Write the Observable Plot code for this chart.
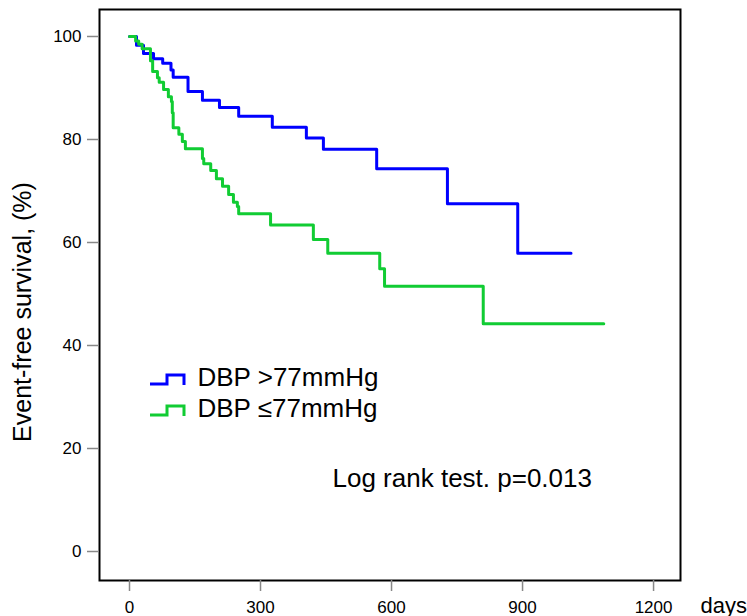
<!DOCTYPE html>
<html>
<head>
<meta charset="utf-8">
<script src="https://cdn.jsdelivr.net/npm/d3@7"></script>
<script src="https://cdn.jsdelivr.net/npm/@observablehq/plot@0.6"></script>
<style>
  html, body { margin: 0; padding: 0; background: #fff; }
  #chart { position: relative; width: 747px; height: 616px; }
</style>
</head>
<body>
<div id="chart"></div>
<script>
// ---- data ----
const seriesNames = ["DBP >77mmHg", "DBP ≤77mmHg"];
const seriesColors = ["#0000ff", "#11cc33"];

const blueDays = [0, 16, 32, 55, 76, 95, 100, 134, 167, 206, 250, 327, 405, 444, 566, 728, 889, 1011];
const blueSurv = [100, 98.3, 96.7, 95.7, 94.8, 93.5, 92.1, 89.3, 87.6, 86.2, 84.5, 82.4, 80.3, 78.1, 74.3, 67.5, 57.9, 57.9];

const greenDays = [0, 14, 21, 29, 48, 53, 64, 68, 78, 89, 96, 98, 100, 113, 121, 128, 167, 170, 186, 199, 213, 227, 238, 247, 250, 323, 421, 454, 573, 584, 810, 1086];
const greenSurv = [100, 99.1, 98.5, 97.6, 95.3, 93.2, 92.0, 91.1, 89.7, 88.3, 87.4, 85.2, 82.3, 81.0, 79.6, 78.2, 76.3, 75.3, 74.0, 72.4, 70.9, 69.3, 67.8, 67.0, 65.6, 63.4, 60.6, 57.9, 54.9, 51.5, 44.2, 44.2];

const xTicks = [0, 300, 600, 900, 1200];
const yTicks = [0, 20, 40, 60, 80, 100];
const yTitle = "Event-free survival, (%)";
const xTitle = "days";
const note = "Log rank test. p=0.013";

// ---- build table ----
const rows = [
  ...blueDays.map((d, i) => ({day: d, surv: blueSurv[i], group: seriesNames[0]})),
  ...greenDays.map((d, i) => ({day: d, surv: greenSurv[i], group: seriesNames[1]}))
];

const font = "Liberation Sans, Arial, Helvetica, sans-serif";

const plot = Plot.plot({
  width: 747,
  height: 616,
  marginLeft: 99,
  marginRight: 67,
  marginTop: 9,
  marginBottom: 36,
  style: {fontFamily: font, background: "#fff", overflow: "visible"},
  x: {domain: [-68.7, 1261.7], ticks: xTicks},
  y: {domain: [-5.63, 105.24], ticks: yTicks},
  color: {domain: seriesNames, range: seriesColors},
  marks: [
    Plot.line(rows, {x: "day", y: "surv", z: "group", stroke: "group", curve: "step-after", strokeWidth: 3}),
    Plot.frame({stroke: "#000", strokeWidth: 2}),
    Plot.axisX({ticks: xTicks, tickFormat: d => String(d), tickSize: 11, stroke: "#888", strokeWidth: 1.5, fill: "#000", fontSize: 17, tickPadding: 9, label: null}),
    Plot.axisY({ticks: yTicks, tickSize: 12, stroke: "#888", strokeWidth: 1.5, fill: "#000", fontSize: 17, tickPadding: 6, label: null}),
    Plot.text([yTitle], {frameAnchor: "left", dx: -77, dy: 17, rotate: -90, textAnchor: "middle", lineAnchor: "middle", fontSize: 25, fill: "#000"}),
    Plot.text([xTitle], {frameAnchor: "bottom-right", dx: 20, dy: 25, textAnchor: "start", lineAnchor: "middle", fontSize: 22, fill: "#000"}),
    Plot.text([note], {frameAnchor: "top-left", dx: 233, dy: 469, textAnchor: "start", lineAnchor: "middle", fontSize: 26, fill: "#000"}),
    Plot.text([seriesNames[0]], {frameAnchor: "top-left", dx: 98, dy: 368, textAnchor: "start", lineAnchor: "middle", fontSize: 26, fill: "#000"}),
    Plot.text([seriesNames[1]], {frameAnchor: "top-left", dx: 98, dy: 399, textAnchor: "start", lineAnchor: "middle", fontSize: 26, fill: "#000"})
  ]
});

document.getElementById("chart").appendChild(plot);

// legend step icons
const svg = d3.select(plot);
seriesColors.forEach((c, i) => {
  const y0 = 378 + i * 31;
  svg.append("path")
    .attr("d", `M150,${y0 + 6}H167V${y0 - 3}H184V${y0 + 7}`)
    .attr("fill", "none")
    .attr("stroke", c)
    .attr("stroke-width", 3);
});
</script>
</body>
</html>
